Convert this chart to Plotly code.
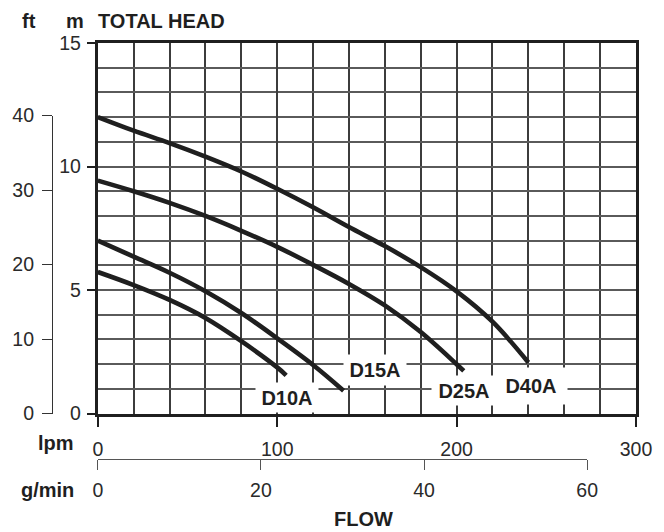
import plotly.graph_objects as go

# ---------------- data ----------------
d10a_lpm = [0, 20, 40, 60, 80, 100, 105]
d10a_m = [5.73, 5.2, 4.6, 3.87, 2.93, 1.87, 1.55]

d15a_lpm = [0, 20, 40, 60, 80, 100, 120, 137]
d15a_m = [7.0, 6.35, 5.7, 4.95, 4.07, 3.05, 1.97, 0.93]

d25a_lpm = [0, 20, 40, 60, 80, 100, 120, 140, 160, 180, 200, 204]
d25a_m = [9.43, 9.0, 8.53, 8.0, 7.4, 6.75, 6.02, 5.25, 4.38, 3.3, 2.0, 1.73]

d40a_lpm = [0, 20, 40, 60, 80, 100, 120, 140, 160, 180, 200, 220, 240]
d40a_m = [12.0, 11.45, 10.95, 10.4, 9.8, 9.1, 8.35, 7.55, 6.78, 5.93, 4.95, 3.72, 2.07]

series_names = ["D10A", "D15A", "D25A", "D40A"]

lpm_ticks = [0, 100, 200, 300]
m_ticks = [0, 5, 10, 15]
ft_ticks = [0, 10, 20, 30, 40]
gpm_ticks = [0, 20, 40, 60]

LPM_PER_IMP_GAL = 4.54609

# ---------------- geometry ----------------
W, H = 664, 532
ML, MR, MT, MB = 40, 26, 43, 20
PW = W - ML - MR
PH = H - MT - MB


def px_x(px):
    return (px - ML) / PW


def px_y(py):
    return (H - MB - py) / PH


plot_left, plot_right = 98, 638
plot_top, plot_bottom = 43, 416
x_dom = [px_x(plot_left), px_x(plot_right)]
y_dom = [px_y(plot_bottom), px_y(plot_top)]
gpm_end_px = plot_left + (60 * LPM_PER_IMP_GAL / 300) * (plot_right - plot_left)
x2_dom = [px_x(plot_left), px_x(gpm_end_px)]
ft_top_px = 116
y2_dom = [px_y(plot_bottom), px_y(ft_top_px)]

INK = "#1f1f1f"
GRID_V = "#3c3c3c"
GRID_H = "#5a5a5a"
TXT = "#2a2a2a"
FONT = "Liberation Sans, Arial, sans-serif"

fig = go.Figure()

for xs, ys in [(d10a_lpm, d10a_m), (d15a_lpm, d15a_m), (d25a_lpm, d25a_m), (d40a_lpm, d40a_m)]:
    fig.add_trace(go.Scatter(
        x=xs, y=ys, mode="lines",
        line=dict(color=INK, width=4.6, shape="spline", smoothing=1.0),
        hoverinfo="skip", showlegend=False,
    ))

# invisible carrier for the auxiliary (ft, g/min) axes
fig.add_trace(go.Scatter(x=[0], y=[0], xaxis="x2", yaxis="y2", mode="markers",
                         marker=dict(opacity=0), hoverinfo="skip", showlegend=False))

tickfont = dict(family=FONT, size=19.5, color=TXT)

fig.update_layout(
    width=W, height=H,
    margin=dict(l=ML, r=MR, t=MT, b=MB, pad=0),
    paper_bgcolor="white", plot_bgcolor="rgba(0,0,0,0)",
    showlegend=False, hovermode=False,
    xaxis=dict(
        domain=x_dom, range=[0, 300], tickvals=lpm_ticks,
        ticks="outside", ticklen=10, tickwidth=2, tickcolor=INK,
        showgrid=True, gridcolor=GRID_V, gridwidth=2,
        minor=dict(dtick=20, showgrid=True, gridcolor=GRID_V, gridwidth=2, ticks=""),
        showline=True, linewidth=3, linecolor=INK, mirror=True,
        zeroline=False, tickfont=tickfont, fixedrange=True, anchor="y",
        ticklabelstandoff=6,
    ),
    yaxis=dict(
        domain=y_dom, range=[0, 15], tickvals=m_ticks,
        ticks="outside", ticklen=8, tickwidth=2, tickcolor=INK,
        showgrid=True, gridcolor=GRID_H, gridwidth=2,
        minor=dict(dtick=1, showgrid=True, gridcolor=GRID_H, gridwidth=2, ticks=""),
        showline=True, linewidth=3, linecolor=INK, mirror=True,
        zeroline=False, tickfont=tickfont, fixedrange=True, anchor="x",
        ticklabelstandoff=2,
    ),
    yaxis2=dict(
        domain=y2_dom, range=[0, 40], tickvals=ft_ticks,
        anchor="free", position=px_x(52), side="left",
        ticks="outside", ticklen=10, tickwidth=1, tickcolor="#333",
        showgrid=False, zeroline=False,
        showline=True, linewidth=1, linecolor="#333",
        tickfont=tickfont, fixedrange=True, ticklabelstandoff=4,
    ),
    xaxis2=dict(
        domain=x2_dom, range=[0, 60], tickvals=gpm_ticks,
        anchor="free", position=px_y(462), side="bottom",
        ticks="outside", ticklen=10, tickwidth=1, tickcolor="#555",
        showgrid=False, zeroline=False,
        showline=True, linewidth=1, linecolor="#555",
        tickfont=tickfont, fixedrange=True, ticklabelstandoff=3,
    ),
)

bold = dict(family=FONT, size=20, color=INK)


def paper_note(text, px, py, xanchor="center"):
    fig.add_annotation(text=f"<b>{text}</b>", xref="paper", yref="paper",
                       x=px_x(px), y=px_y(py), xanchor=xanchor, yanchor="middle",
                       showarrow=False, font=bold)


paper_note("ft", 29, 21)
paper_note("m", 75, 21)
paper_note("TOTAL HEAD", 96, 21, xanchor="left")
paper_note("lpm", 76, 446, xanchor="right")
paper_note("g/min", 76, 493, xanchor="right")
paper_note("FLOW", 365, 522)

# curve labels: (lpm, m) centre, box width, box height in px
label_pos = {"D10A": (105.5, 0.66), "D15A": (154.6, 1.76), "D25A": (203.9, 0.92), "D40A": (241.4, 1.1)}
label_box = {"D10A": (62, 29), "D15A": (62, 30), "D25A": (64, 29), "D40A": (72, 36)}
for name in series_names:
    lx, ly = label_pos[name]
    bw, bh = label_box[name]
    fig.add_annotation(text=f"<b>{name}</b>", x=lx, y=ly, xref="x", yref="y",
                       showarrow=False, font=bold, bgcolor="white", borderpad=0,
                       width=bw, height=bh)

fig.write_html("out.html", config={"displayModeBar": False},
               post_script="document.body.style.margin='0';document.body.style.overflow='hidden';")
